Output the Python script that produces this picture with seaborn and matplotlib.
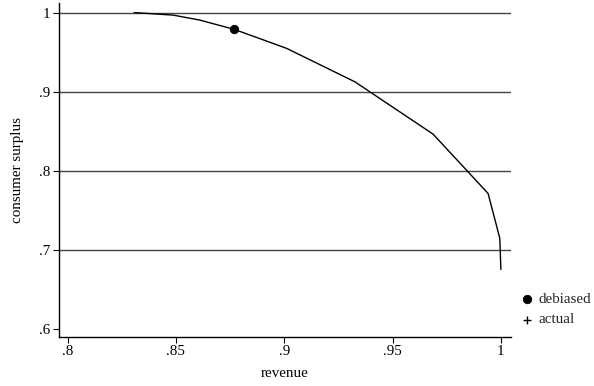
import matplotlib
matplotlib.use("Agg")
import matplotlib.pyplot as plt
import seaborn as sns
import pandas as pd

# Frontier of revenue vs. consumer surplus
revenue = [0.8307, 0.8487, 0.861, 0.877, 0.9011, 0.9326, 0.9687, 0.9941, 0.9995, 1.0]
consumer_surplus = [1.0, 0.9968, 0.9905, 0.9787, 0.9547, 0.9124, 0.8462, 0.7711, 0.7144, 0.675]

# Estimated points
debiased_rev = [0.8768]
debiased_cs = [0.9787]
actual_rev = [0.8768]
actual_cs = [0.9787]

x_ticks = [0.8, 0.85, 0.9, 0.95, 1.0]
x_tick_labels = [".8", ".85", ".9", ".95", "1"]
y_ticks = [0.6, 0.7, 0.8, 0.9, 1.0]
y_tick_labels = [".6", ".7", ".8", ".9", "1"]

sns.set_theme(style="white")
plt.rcParams["font.family"] = ["Liberation Serif", "DejaVu Serif"]
FS = 10.8
plt.rcParams["font.size"] = FS

fig = plt.figure(figsize=(5.94, 3.86), dpi=100)
ax = fig.add_axes([0.0985, 0.127, 0.7615, 0.865])

frontier = pd.DataFrame({"revenue": revenue, "cs": consumer_surplus})
sns.lineplot(data=frontier, x="revenue", y="cs", color="black", linewidth=1.0,
             sort=False, estimator=None, ax=ax, legend=False)

deb = pd.DataFrame({"revenue": debiased_rev, "cs": debiased_cs})
act = pd.DataFrame({"revenue": actual_rev, "cs": actual_cs})
sns.scatterplot(data=deb, x="revenue", y="cs", marker="o", s=38, color="black",
                edgecolor="black", linewidth=0.5, ax=ax, label="debiased", zorder=4)
sns.scatterplot(data=act, x="revenue", y="cs", marker="+", s=40, color="black",
                linewidth=1.0, ax=ax, label="actual", zorder=5)

ax.set_xlim(0.7958, 1.0046)
ax.set_ylim(0.5895, 1.012)
ax.set_xticks(x_ticks)
ax.set_xticklabels(x_tick_labels)
ax.set_yticks(y_ticks)
ax.set_yticklabels(y_tick_labels)

for yv in y_ticks[1:]:
    ax.axhline(yv, color="#444444", linewidth=1.0, zorder=1)

for side in ["top", "right"]:
    ax.spines[side].set_visible(False)
for side in ["left", "bottom"]:
    ax.spines[side].set_color("black")
    ax.spines[side].set_linewidth(1.0)

ax.tick_params(axis="both", which="major", direction="out", length=4, width=0.8,
               color="black", labelsize=FS, labelcolor="black",
               bottom=True, left=True, pad=2)
ax.set_xlabel("revenue", fontsize=FS, color="black", labelpad=6)
ax.set_ylabel("consumer surplus", fontsize=FS, color="black", labelpad=11)

ax.legend(loc="center left", bbox_to_anchor=(1.005, 0.082), frameon=False,
          fontsize=FS, handletextpad=0.3, labelspacing=0.45, handlelength=1.0,
          borderaxespad=0.0)

fig.savefig("out.png", dpi=100)
